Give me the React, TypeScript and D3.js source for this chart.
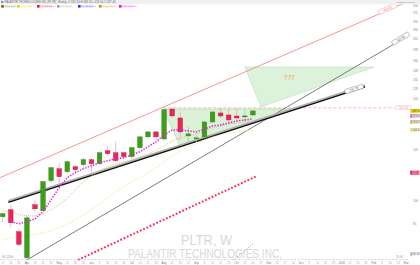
import React from "react";
import * as d3 from "d3";

const W = 420;
const H = 265;
const FONT = "'Liberation Sans', Arial, sans-serif";

// weekly candles (Monday dates)
const weeks = [
  "2025-03-17", "2025-03-24", "2025-03-31", "2025-04-07", "2025-04-14", "2025-04-21", "2025-04-28", "2025-05-05",
  "2025-05-12", "2025-05-19", "2025-05-26", "2025-06-02", "2025-06-09", "2025-06-16", "2025-06-23", "2025-06-30",
  "2025-07-07", "2025-07-14", "2025-07-21", "2025-07-28", "2025-08-04", "2025-08-11", "2025-08-18", "2025-08-25",
  "2025-09-01", "2025-09-08", "2025-09-15", "2025-09-22", "2025-09-29", "2025-10-06", "2025-10-13", "2025-10-20",
];
const open = [89.3, 93.8, 80.4, 67.0, 97.1, 93.1, 115.0, 125.0, 122.4, 126.8, 128.6, 133.2, 129.5, 141.8, 139.8, 139.8,
  136.0, 144.8, 156.3, 161.8, 154.0, 190.0, 178.4, 157.4, 154.1, 156.3, 173.5, 184.8, 182.2, 180.9, 180.5, 182.2];
const high = [92.5, 97.0, 82.0, 90.0, 100.0, 115.0, 127.0, 130.0, 133.0, 128.0, 135.0, 134.5, 141.5, 146.8, 150.9, 141.0,
  146.0, 157.0, 163.0, 163.0, 190.5, 190.5, 186.0, 167.5, 158.5, 174.0, 187.0, 191.3, 191.3, 191.3, 188.7, 188.5];
const low = [86.0, 83.0, 72.5, 66.0, 92.5, 93.0, 113.0, 112.0, 121.0, 121.0, 126.0, 122.0, 128.0, 137.0, 131.0, 134.0,
  134.0, 143.5, 154.0, 153.0, 152.0, 180.0, 153.0, 149.9, 150.9, 155.0, 172.0, 178.4, 171.1, 173.5, 173.5, 181.0];
const close = [91.2, 85.6, 73.6, 88.6, 94.4, 114.2, 125.9, 118.2, 131.3, 124.2, 133.2, 129.5, 139.8, 138.9, 132.2, 136.0,
  144.8, 156.3, 161.8, 156.3, 189.0, 181.0, 161.8, 159.6, 155.2, 173.5, 186.1, 180.9, 175.9, 178.4, 181.0, 187.4];

// moving averages
const emaFast: (number | null)[] = [null, 86.2, 85.0, 86.2, 88.0, 92.5, 100.7, 109.5, 117.4, 121.6, 125.0, 127.7, 130.4,
  132.2, 134.1, 135.0, 137.9, 140.8, 145.8, 150.9, 158.5, 164.1, 164.1, 162.9, 161.8, 165.2, 168.7, 169.9, 172.3, 174.7,
  175.9, 177.2];
const smaMid = [93.1, 92.5, 90.5, 89.9, 89.9, 91.2, 93.8, 97.1, 101.8, 108.0, 114.2, 118.8, 123.3, 126.8, 129.5, 131.3,
  133.2, 136.0, 138.9, 141.8, 146.8, 152.0, 155.2, 157.4, 159.6, 162.9, 166.4, 168.7, 171.1, 172.3, 173.5, 174.7];
const smaSlow = [76.0, 77.0, 77.6, 78.1, 78.7, 79.8, 81.0, 82.7, 85.0, 87.4, 90.5, 93.8, 97.8, 101.8, 106.5, 110.3,
  114.2, 117.4, 121.6, 125.9, 131.3, 136.9, 141.8, 145.8, 148.9, 153.1, 156.3, 158.5, 160.7, 161.8, 162.9, 164.1];

// drawings: [week offset, price]
const channelTop = [[-0.34, 117.4], [50.1, 402.2]];
const supportLine = [[0.7, 98.8], [44.9, 221.7]];
const longTrend = [[3.0, 66.0], [50.2, 316.9]];
const redDotted = [[9.33, 66.0], [31.5, 118.8]];
const grayDotted = [[28.6, 66.0], [31.0, 73.8]];
const resistance = [[19.9, 191.5], [48.6, 191.5]];
const triangle = [[19.9, 190.0], [36.4, 190.0], [22.0, 146.0]];
const projection = [[30.0, 255.0], [46.0, 255.0], [32.0, 192.7]];

const yTicks = [390, 372, 350, 330, 310, 288, 266, 248, 232, 218, 204, 143, 100, 85];

const legendItems = ["PLTR 187.40", "MA 10 173.46", "MA 200 118.80", "VWAP 0.00", "MA 50 141.20", "MA 20 164.10", "EMA 5 177.20"];
const legendColors = ["#3c9c18", "#e6d600", "#e81030", "#a0a0a0", "#2030ff", "#b09a00", "#e010e0"];

export default function App() {
  const x = d3.scaleLinear().domain([-0.335, 50.22]).range([0, 408]);
  const y = d3.scaleLog().domain([65.95, 407.8]).range([260, 0]);
  const start = d3.timeParse("%Y-%m-%d")(weeks[0]) as Date;
  const fmtMon = d3.timeFormat("%b");

  const line = d3.line<number[]>().x((d) => x(d[0])).y((d) => y(d[1]));
  const maLine = d3
    .line<number | null>()
    .defined((d) => d != null)
    .x((_, i) => x(i))
    .y((d) => y(d as number));

  const poly = (pts: number[][]) => pts.map((p) => `${x(p[0])},${y(p[1])}`).join(" ");

  const lineLabel = (
    seg: number[][], wi: number, text: string, stroke: string, fill: string, color: string, off = -1.5
  ) => {
    const x0 = x(seg[0][0]), y0 = y(seg[0][1]), x1 = x(seg[1][0]), y1 = y(seg[1][1]);
    const ang = (Math.atan2(y1 - y0, x1 - x0) * 180) / Math.PI;
    const px = x(wi);
    const t = (px - x0) / (x1 - x0);
    const py = y0 + t * (y1 - y0);
    return (
      <g transform={`translate(${px},${py}) rotate(${ang}) translate(0,${off})`}>
        <rect x={-9.5} y={-2.2} width={19} height={4.4} rx={0.8} fill={fill} stroke={stroke} strokeWidth={0.4} />
        <text x={0} y={1.1} fontSize={3} textAnchor="middle" fill={color}>{text}</text>
      </g>
    );
  };

  const xTicks = d3.range(0, 51).map((k) => {
    const d = d3.timeDay.offset(start, 7 * k);
    let label = String(d.getDate());
    if (d.getDate() <= 7) label = d.getMonth() === 0 ? String(d.getFullYear()) : fmtMon(d);
    return { k, label, major: d.getDate() <= 7 };
  });

  const rightLabels = [
    { v: close[close.length - 1], dy: 0, strip: "#e6d600", bg: "#f5e000", fg: "#333" },
    { v: emaFast[emaFast.length - 1] as number, dy: -3, strip: "#e010e0", bg: "#f0c8f0", fg: "#555" },
    { v: smaMid[smaMid.length - 1], dy: 1, strip: "#b09a00", bg: "#ece6c4", fg: "#555" },
    { v: smaSlow[smaSlow.length - 1], dy: 0, strip: "#e6d600", bg: "#f7f3c8", fg: "#555" },
    { v: 121.6, dy: 0, strip: "#e81040", bg: "#e8285a", fg: "#fff" },
    { v: 68.7, dy: 0, strip: "#999", bg: "#f4f4f4", fg: "#555" },
  ];

  const bw = 4.6;

  return (
    <svg width={W} height={H} style={{ position: "fixed", left: 0, top: 0, background: "#fff" }} fontFamily={FONT}>
      <rect x={0} y={0} width={W} height={H} fill="#fff" />
      {/* watermark */}
      <text x={181} y={245} fontSize={15} fill="#d8d8d8" textLength={51} lengthAdjust="spacingAndGlyphs">PLTR, W</text>
      <text x={128} y={258} fontSize={12} fill="#d8d8d8" textLength={154} lengthAdjust="spacingAndGlyphs">
        PALANTIR TECHNOLOGIES INC.
      </text>

      {/* pattern regions */}
      <polygon points={poly(triangle)} fill="#cfeccb" fillOpacity={0.75} stroke="#9fd59a" strokeWidth={0.6} />
      <polygon points={poly(projection)} fill="#cfeccb" fillOpacity={0.7} stroke="#b5e0b0" strokeWidth={0.6} />
      <text x={x(35.5)} y={y(232)} fontSize={6.5} fill="#f0a050" textAnchor="middle">???</text>

      {/* resistance dashed */}
      <path d={line(resistance) as string} stroke="#f4a4ac" strokeWidth={0.8} strokeDasharray="3,2" fill="none" />

      {/* trend lines */}
      <path d={line(channelTop) as string} stroke="#f48a8a" strokeWidth={0.9} fill="none" />
      <path d={line(longTrend) as string} stroke="#5a5a5a" strokeWidth={0.8} fill="none" />
      <path d={line(supportLine) as string} stroke="#b0b0b0" strokeWidth={2.6} fill="none" transform="translate(0,-1.2)" />
      <path d={line(supportLine) as string} stroke="#111" strokeWidth={1.3} fill="none" />
      <path d={line(redDotted) as string} stroke="#ff2a55" strokeWidth={2} strokeDasharray="1.8,1.8" fill="none" />
      <path d={line(grayDotted) as string} stroke="#999" strokeWidth={1} strokeDasharray="1,1.4" fill="none" />

      {/* moving averages */}
      <path d={maLine(smaSlow) as string} stroke="#ecec9c" strokeWidth={1} strokeDasharray="1,1" fill="none" />
      <path d={maLine(smaMid) as string} stroke="#d2c878" strokeWidth={1} strokeDasharray="1,1" fill="none" />

      {/* candles */}
      {weeks.map((_, i) => {
        const up = close[i] >= open[i];
        const cx = x(i);
        const top = y(Math.max(open[i], close[i]));
        const bot = y(Math.min(open[i], close[i]));
        return (
          <g key={i}>
            <line x1={cx} x2={cx} y1={y(high[i])} y2={y(low[i])} stroke={up ? "#a8cc98" : "#eca4b6"} strokeWidth={0.8} />
            <rect
              x={cx - bw / 2}
              y={top}
              width={bw}
              height={Math.max(1, bot - top)}
              fill={up ? "#3e9e1a" : "#e8265a"}
              stroke={up ? "#2c7c10" : "#c4103e"}
              strokeWidth={0.4}
            />
          </g>
        );
      })}

      <path d={maLine(emaFast) as string} stroke="#e020e0" strokeWidth={1.5} strokeDasharray="1.4,1.4" fill="none" />

      {/* line labels */}
      {lineLabel(channelTop, 47.75, "402.20", "#f48a8a", "#fff", "#f06060")}
      {lineLabel(supportLine, 43.6, "221.70", "#777", "#fff", "#333")}
      {lineLabel(longTrend, 49.4, "316.90", "#777", "#fff", "#333")}

      {/* resistance label */}
      <rect x={396} y={y(191.5) - 2} width={15} height={4} fill="#fff" stroke="#f4a4ac" strokeWidth={0.4} />
      <text x={403.5} y={y(191.5) + 1.1} fontSize={3} textAnchor="middle" fill="#f08890">191.50</text>

      {/* right axis */}
      {yTicks.map((t) => (
        <text key={t} x={413} y={y(t) + 1} fontSize={3} fill="#888">{t.toFixed(0)}</text>
      ))}
      {rightLabels.map((l, i) => {
        const yy = y(l.v) + l.dy;
        return (
          <g key={i}>
            <rect x={410.5} y={yy - 2} width={9} height={4} fill={l.bg} />
            <rect x={410.5} y={yy - 2} width={1} height={4} fill={l.strip} />
            <text x={412} y={yy + 1.1} fontSize={3} fill={l.fg}>{l.v.toFixed(2)}</text>
          </g>
        );
      })}

      {/* x axis */}
      <line x1={0} x2={408} y1={259.5} y2={259.5} stroke="#b8b8b8" strokeWidth={0.6} strokeDasharray="2,1.5" />
      {xTicks.map((t) => (
        <text key={t.k} x={x(t.k)} y={264.3} fontSize={2.8} textAnchor="middle" fill={t.major ? "#777" : "#aaa"}>
          {t.label}
        </text>
      ))}
      <text x={2} y={257.5} fontSize={2.8} fill="#999">66.12000</text>
      <text x={396} y={257.5} fontSize={2.8} fill="#999">26.60</text>

      {/* header */}
      <rect x={0} y={0} width={W} height={4.3} fill="#f0f0f0" />
      <rect x={1} y={0.8} width={2.4} height={2.4} fill="#7aa0d0" />
      <text x={4.5} y={3.2} fontSize={2.8} fill="#666">
        PALANTIR TECHNOLOGIES INC (PLTR), Weekly, O:182.20 H:188.50 L:181.00 C:187.40
      </text>
      <text x={415} y={2.9} fontSize={2.4} fill="#888" textAnchor="end">TradingView.com</text>
      {legendItems.map((s, i) => {
        const xs = [1, 17, 37, 57, 78, 99, 119][i];
        return (
          <g key={s}>
            <rect x={xs} y={5} width={2.6} height={2.6} fill={legendColors[i]} />
            {i === 0 && <rect x={xs + 1.3} y={5} width={1.3} height={2.6} fill="#e8265a" />}
            <rect x={xs + 3.2} y={5} width={12} height={2.6} fill={legendColors[i]} opacity={0.15} />
            <text x={xs + 3.6} y={7.1} fontSize={2.3} fill={legendColors[i]} opacity={0.7}>{s}</text>
          </g>
        );
      })}
    </svg>
  );
}
